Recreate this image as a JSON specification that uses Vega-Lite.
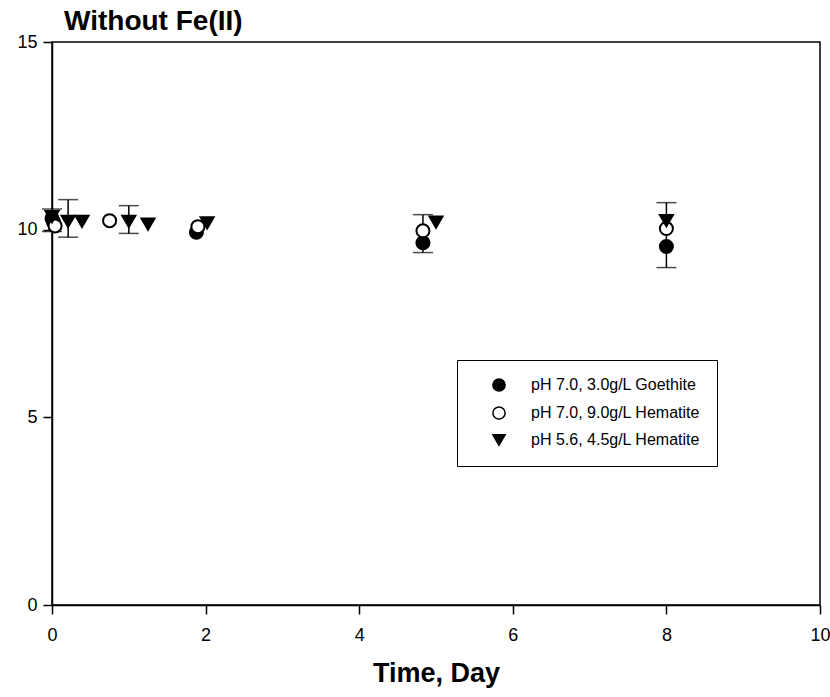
{
  "$schema": "https://vega.github.io/schema/vega-lite/v6.json",
  "width": 768,
  "height": 563,
  "autosize": {"type": "none"},
  "padding": {"left": 52, "top": 42, "right": 10, "bottom": 92},
  "background": "white",
  "config": {
    "font": "Liberation Sans",
    "view": {"stroke": "black", "strokeWidth": 1.5},
    "axis": {"grid": false, "domainColor": "black", "domainWidth": 1.5, "tickColor": "black", "tickWidth": 1.5, "tickSize": 9, "labelColor": "black", "labelFont": "Liberation Sans", "labelFontSize": 18, "labelPadding": 6, "labelFlush": false}
  },
  "title": {"text": "Without Fe(II)", "anchor": "start", "frame": "group", "dx": 12, "offset": -3, "font": "Liberation Sans", "fontSize": 28, "fontWeight": "bold", "color": "black"},
  "datasets": {
    "pts": [
      {"t": 0.0, "v": 10.3, "s": "pH 7.0, 3.0g/L Goethite"},
      {"t": 0.02, "v": 10.2, "s": "pH 7.0, 3.0g/L Goethite"},
      {"t": 1.88, "v": 9.93, "s": "pH 7.0, 3.0g/L Goethite"},
      {"t": 4.83, "v": 9.65, "s": "pH 7.0, 3.0g/L Goethite"},
      {"t": 8.0, "v": 9.55, "s": "pH 7.0, 3.0g/L Goethite"},
      {"t": 0.04, "v": 10.1, "s": "pH 7.0, 9.0g/L Hematite"},
      {"t": 0.75, "v": 10.24, "s": "pH 7.0, 9.0g/L Hematite"},
      {"t": 1.9, "v": 10.08, "s": "pH 7.0, 9.0g/L Hematite"},
      {"t": 4.83, "v": 9.97, "s": "pH 7.0, 9.0g/L Hematite"},
      {"t": 8.0, "v": 10.03, "s": "pH 7.0, 9.0g/L Hematite"},
      {"t": 0.0, "v": 10.35, "s": "pH 5.6, 4.5g/L Hematite"},
      {"t": 0.21, "v": 10.22, "s": "pH 5.6, 4.5g/L Hematite"},
      {"t": 0.39, "v": 10.22, "s": "pH 5.6, 4.5g/L Hematite"},
      {"t": 1.0, "v": 10.22, "s": "pH 5.6, 4.5g/L Hematite"},
      {"t": 1.25, "v": 10.15, "s": "pH 5.6, 4.5g/L Hematite"},
      {"t": 2.02, "v": 10.18, "s": "pH 5.6, 4.5g/L Hematite"},
      {"t": 5.0, "v": 10.2, "s": "pH 5.6, 4.5g/L Hematite"},
      {"t": 8.0, "v": 10.24, "s": "pH 5.6, 4.5g/L Hematite"}
    ],
    "err": [
      {"t": 0.0, "lo": 9.95, "hi": 10.55},
      {"t": 0.21, "lo": 9.8, "hi": 10.8},
      {"t": 1.0, "lo": 9.9, "hi": 10.64},
      {"t": 4.83, "lo": 9.39, "hi": 10.4},
      {"t": 8.0, "lo": 8.99, "hi": 10.72}
    ]
  },
  "layer": [
    {
      "data": {"name": "err"},
      "mark": {"type": "errorbar", "color": "black", "thickness": 1.5, "ticks": {"size": 20, "thickness": 1.5, "color": "black"}},
      "encoding": {
        "x": {"field": "t", "type": "quantitative"},
        "y": {"field": "lo", "type": "quantitative"},
        "y2": {"field": "hi"}
      }
    },
    {
      "data": {"name": "pts"},
      "mark": {"type": "point", "filled": true, "stroke": "black", "strokeWidth": 2, "opacity": 1, "size": 170},
      "encoding": {
        "x": {"field": "t", "type": "quantitative", "scale": {"domain": [0, 10], "nice": false}, "axis": {"values": [0, 2, 4, 6, 8, 10], "format": "d", "title": "Time, Day", "titleFont": "Liberation Sans", "titleFontSize": 27, "titleFontWeight": "bold", "titleColor": "black", "titlePadding": 16, "labelPadding": 12}},
        "y": {"field": "v", "type": "quantitative", "scale": {"domain": [0, 15], "nice": false}, "axis": {"values": [0, 5, 10, 15], "format": "d", "title": null}},
        "shape": {"field": "s", "type": "nominal", "title": null, "scale": {"domain": ["pH 7.0, 3.0g/L Goethite", "pH 7.0, 9.0g/L Hematite", "pH 5.6, 4.5g/L Hematite"], "range": ["circle", "circle", "triangle-down"]},
          "legend": {"orient": "none", "legendX": 405, "legendY": 318, "strokeColor": "black", "fillColor": "white", "padding": 17, "symbolOffset": 17, "labelOffset": 24, "labelFont": "Liberation Sans", "labelFontSize": 16, "labelColor": "black", "rowPadding": 8, "symbolSize": 150, "labelLimit": 400,
            "encode": {"symbols": {"update": {"stroke": {"value": "black"}, "strokeWidth": {"value": 2}}}}}},
        "fill": {"field": "s", "type": "nominal", "title": null, "scale": {"domain": ["pH 7.0, 3.0g/L Goethite", "pH 7.0, 9.0g/L Hematite", "pH 5.6, 4.5g/L Hematite"], "range": ["black", "white", "black"]}}
      }
    }
  ]
}
